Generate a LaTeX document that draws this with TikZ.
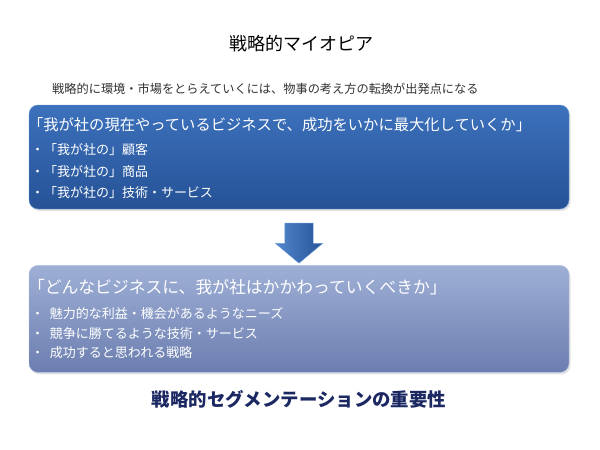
\documentclass[tikz,border=0pt]{standalone}
\usepackage{fontspec}
\setmainfont{Noto Sans CJK JP}
\usepackage{tikz}
\usetikzlibrary{positioning,calc,shapes.arrows,shadows}
\definecolor{uppertop}{RGB}{60,113,188}
\definecolor{upperbot}{RGB}{38,82,150}
\definecolor{upperrim}{RGB}{105,152,215}
\definecolor{lowertop}{RGB}{158,175,214}
\definecolor{lowerbot}{RGB}{108,126,175}
\definecolor{lowerrim}{RGB}{178,192,226}
\definecolor{arrowlight}{RGB}{82,134,204}
\definecolor{arrowdark}{RGB}{38,84,152}
\definecolor{navy}{RGB}{28,40,98}
\definecolor{inkgray}{RGB}{50,50,50}

\begin{document}
\begin{tikzpicture}[x=1pt,y=-1pt,
  panel/.style={rounded corners=9pt,minimum width=540pt,inner sep=0pt,
    drop shadow={opacity=0.22,shadow xshift=1.5pt,shadow yshift=-2pt}},
  upperbox/.style={panel,draw=upperrim,top color=uppertop,bottom color=upperbot,minimum height=104pt},
  lowerbox/.style={panel,draw=lowerrim,top color=lowertop,bottom color=lowerbot,minimum height=107pt},
  paneltitle/.style={anchor=west,inner sep=0pt,text=white},
  panelitem/.style={anchor=west,inner sep=0pt,text=white,font=\fontsize{13}{15}\selectfont}]
  \useasboundingbox[fill=white] (0,0) rectangle (600,450);

  % headings
  \node[inner sep=0pt,font=\fontsize{18}{20}\selectfont] (title) at (301,44) {戦略的マイオピア};
  \node[anchor=west,inner sep=0pt,text=inkgray,font=\fontsize{12.2}{14}\selectfont] (lead) at (52,89) {戦略的に環境・市場をとらえていくには、物事の考え方の転換が出発点になる};

  % upper panel
  \node[upperbox] (upper) at (299,157) {};
  \node[paneltitle,font=\fontsize{15.3}{17}\selectfont] (uppertitle) at ([xshift=-1pt,yshift=-20pt]upper.north west) {「我が社の現在やっているビジネスで、成功をいかに最大化していくか」};
  \node[panelitem] (customer) at ([xshift=2pt,yshift=-45pt]upper.north west) {・「我が社の」顧客};
  \node[panelitem] (product) at ([xshift=2pt,yshift=-67pt]upper.north west) {・「我が社の」商品};
  \node[panelitem] (service) at ([xshift=2pt,yshift=-88pt]upper.north west) {・「我が社の」技術・サービス};

  % lower panel
  \node[lowerbox,below=56pt of upper] (lower) {};
  \node[paneltitle,font=\fontsize{16.8}{18}\selectfont] (lowertitle) at ([xshift=-1pt,yshift=-22pt]lower.north west) {「どんなビジネスに、我が社はかかわっていくべきか」};
  \node[panelitem] (needs) at ([xshift=2pt,yshift=-48pt]lower.north west) {・\hspace{6pt}魅力的な利益・機会があるようなニーズ};
  \node[panelitem] (tech) at ([xshift=2pt,yshift=-68pt]lower.north west) {・\hspace{6pt}競争に勝てるような技術・サービス};
  \node[panelitem] (strategy) at ([xshift=2pt,yshift=-87pt]lower.north west) {・\hspace{6pt}成功すると思われる戦略};

  % block arrow between the panels
  \node[single arrow,rotate=-90,minimum height=40pt,inner xsep=0pt,inner ysep=14pt,
    single arrow head extend=9.5pt,single arrow tip angle=100,
    draw=upperrim,line width=0.4pt,left color=arrowlight,right color=arrowdark] (shift)
    at ($(upper.south)!0.5!(lower.north)$) {};

  \node[inner sep=0pt,text=navy,font=\bfseries\fontsize{18.4}{20}\selectfont,below=18pt of lower] (moral) {戦略的セグメンテーションの重要性};
\end{tikzpicture}
\end{document}
